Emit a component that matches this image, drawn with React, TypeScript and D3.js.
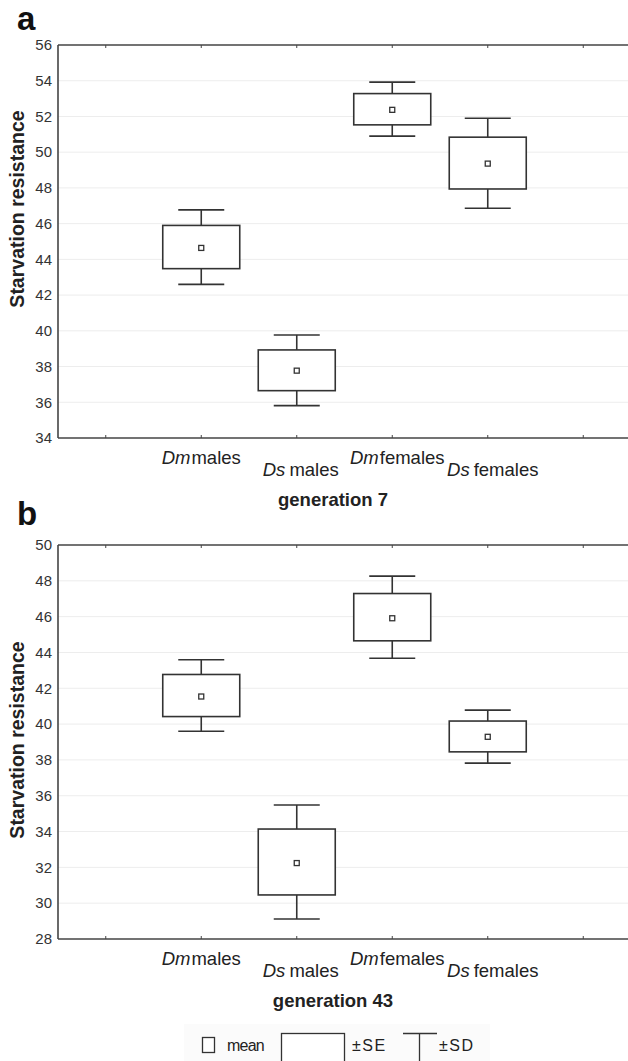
import React from "react";
import * as d3 from "d3";

// categories along the x axis: italic species code + sex
const species = ["Dm", "Ds", "Dm", "Ds"];
const sexes = ["males", "males", "females", "females"];

// generation 7 (panel a): mean, ±SE and ±SD limits
const gen7Mean = [44.64, 37.77, 52.37, 49.36];
const gen7SeLow = [43.48, 36.65, 51.53, 47.94];
const gen7SeHigh = [45.9, 38.93, 53.28, 50.84];
const gen7SdLow = [42.6, 35.81, 50.9, 46.86];
const gen7SdHigh = [46.77, 39.77, 53.92, 51.9];

// generation 43 (panel b)
const gen43Mean = [41.54, 32.24, 45.91, 39.29];
const gen43SeLow = [40.42, 30.46, 44.65, 38.45];
const gen43SeHigh = [42.77, 34.14, 47.29, 40.17];
const gen43SdLow = [39.6, 29.12, 43.68, 37.82];
const gen43SdHigh = [43.59, 35.48, 48.26, 40.78];

const gen7Domain = [34, 56];
const gen43Domain = [28, 50];

const W = 628;
const H = 1061;
const FONT = "'Liberation Sans', Arial, sans-serif";
const INK = "#333";

const panels = [
  {
    letter: "a",
    caption: "generation 7",
    domain: gen7Domain,
    mean: gen7Mean,
    seLow: gen7SeLow,
    seHigh: gen7SeHigh,
    sdLow: gen7SdLow,
    sdHigh: gen7SdHigh,
    top: 45,
    bottom: 438,
    titleY: 209,
    letterY: 30,
  },
  {
    letter: "b",
    caption: "generation 43",
    domain: gen43Domain,
    mean: gen43Mean,
    seLow: gen43SeLow,
    seHigh: gen43SeHigh,
    sdLow: gen43SdLow,
    sdHigh: gen43SdHigh,
    top: 545,
    bottom: 939,
    titleY: 740,
    letterY: 525,
  },
];

const left = 58;
// x positions: categories at 1..4, extra ticks at 0 and 5
const x = d3.scaleLinear().domain([-0.5, 5.5]).range([left, left + 6 * 95.5]);
const xTicks = d3.range(0, 6);
const labelDx = [0, 4, 5, 5];

const Panel = ({ p }) => {
  const y = d3.scaleLinear().domain(p.domain).range([p.bottom, p.top]);
  const yTicks = d3.range(p.domain[0], p.domain[1] + 1, 2);
  const boxW = 77;
  const capW = 46;
  return (
    <g>
      <text x={17} y={p.letterY} fontFamily={FONT} fontWeight="bold" fontSize={33} fill="#111">
        {p.letter}
      </text>
      {/* gridlines */}
      {yTicks.slice(1, -1).map((t) => (
        <line key={"g" + t} x1={left} x2={W} y1={y(t)} y2={y(t)} stroke="#ededed" strokeWidth={1} />
      ))}
      {/* y tick labels */}
      {yTicks.map((t) => (
        <text
          key={"t" + t}
          x={52}
          y={y(t)}
          dy="0.35em"
          textAnchor="end"
          fontFamily={FONT}
          fontSize={15}
          fill={INK}
        >
          {t}
        </text>
      ))}
      {/* frame */}
      <line x1={left} x2={W} y1={p.top} y2={p.top} stroke="#444" strokeWidth={1.6} />
      <line x1={left} x2={W} y1={p.bottom} y2={p.bottom} stroke="#444" strokeWidth={1.6} />
      <line x1={left} x2={left} y1={p.top} y2={p.bottom} stroke="#444" strokeWidth={1.6} />
      {xTicks.map((t) => (
        <g key={"xt" + t}>
          <line x1={x(t)} x2={x(t)} y1={p.top} y2={p.top + 3} stroke="#444" strokeWidth={1} />
          <line x1={x(t)} x2={x(t)} y1={p.bottom} y2={p.bottom - 3} stroke="#444" strokeWidth={1} />
        </g>
      ))}
      {/* boxes */}
      {p.mean.map((m, i) => {
        const cx = x(i + 1);
        return (
          <g key={"b" + i} stroke="#333" fill="none" strokeWidth={1.6}>
            <line x1={cx} x2={cx} y1={y(p.sdHigh[i])} y2={y(p.seHigh[i])} />
            <line x1={cx} x2={cx} y1={y(p.seLow[i])} y2={y(p.sdLow[i])} />
            <line x1={cx - capW / 2} x2={cx + capW / 2} y1={y(p.sdHigh[i])} y2={y(p.sdHigh[i])} />
            <line x1={cx - capW / 2} x2={cx + capW / 2} y1={y(p.sdLow[i])} y2={y(p.sdLow[i])} />
            <rect
              x={cx - boxW / 2}
              y={y(p.seHigh[i])}
              width={boxW}
              height={y(p.seLow[i]) - y(p.seHigh[i])}
              fill="#fff"
            />
            <rect x={cx - 2.5} y={y(m) - 2.5} width={5} height={5} fill="#fff" strokeWidth={1.3} />
          </g>
        );
      })}
      {/* category labels */}
      {species.map((s, i) => (
        <text
          key={"c" + i}
          x={x(i + 1) + labelDx[i]}
          y={p.bottom + (i % 2 === 0 ? 20 : 32)}
          dy="0.35em"
          textAnchor="middle"
          fontFamily={FONT}
          fontSize={18.5}
          fill="#222"
        >
          <tspan fontStyle="italic">{s}</tspan>
          <tspan dx={i % 2 === 0 ? 1 : 4}>{sexes[i]}</tspan>
        </text>
      ))}
      <text
        x={333}
        y={p.bottom + 62}
        dy="0.35em"
        textAnchor="middle"
        fontFamily={FONT}
        fontWeight="bold"
        fontSize={18.5}
        fill="#222"
      >
        {p.caption}
      </text>
      <text
        transform={`translate(17,${p.titleY}) rotate(-90)`}
        dy="0.35em"
        textAnchor="middle"
        fontFamily={FONT}
        fontWeight="bold"
        fontSize={19.5}
        fill="#222"
      >
        Starvation resistance
      </text>
    </g>
  );
};

export default function App() {
  return (
    <svg
      width={W}
      height={H}
      style={{ position: "absolute", left: 0, top: 0, background: "#fff" }}
    >
      <rect width={W} height={H} fill="#fff" />
      {panels.map((p) => (
        <Panel key={p.letter} p={p} />
      ))}
      {/* legend */}
      <g fontFamily={FONT} fontSize={16} fill="#222">
        <rect x={184} y={1024} width={306} height={40} fill="#fbfbfb" />
        <rect x={202.5} y={1037.5} width={12} height={15} fill="#fff" stroke="#333" strokeWidth={1.3} />
        <text x={227} y={1045} dy="0.35em" style={{ letterSpacing: "-0.8px" }}>mean</text>
        <rect x={281.5} y={1033.5} width={63} height={40} fill="#fff" stroke="#333" strokeWidth={1.3} />
        <text x={352} y={1045} dy="0.35em" style={{ letterSpacing: "1.5px" }}>±SE</text>
        <line x1={403} x2={437} y1={1033.5} y2={1033.5} stroke="#333" strokeWidth={1.3} />
        <line x1={419.5} x2={419.5} y1={1033.5} y2={1065} stroke="#333" strokeWidth={1.3} />
        <text x={439} y={1045} dy="0.35em" style={{ letterSpacing: "1.5px" }}>±SD</text>
      </g>
    </svg>
  );
}
